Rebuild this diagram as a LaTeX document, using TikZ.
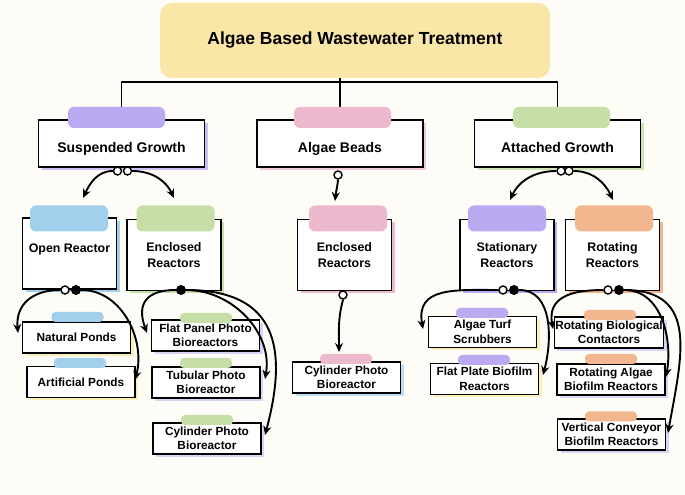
\documentclass[tikz,border=0pt]{standalone}
\usepackage{fontspec}
\setmainfont{Liberation Sans}
\usetikzlibrary{arrows.meta,shadows}

\definecolor{paper}{HTML}{FDFCF7}
\definecolor{cYellow}{HTML}{FAE6A6}
\definecolor{cPurple}{HTML}{BBA9F2}
\definecolor{cPink}{HTML}{EDB9CF}
\definecolor{cGreen}{HTML}{C6DFA8}
\definecolor{cBlue}{HTML}{A2CFEC}
\definecolor{cOrange}{HTML}{F3B78F}
\definecolor{sYellow}{HTML}{FBEFB8}
\definecolor{sLilac}{HTML}{D9D3F6}

\begin{document}
\begin{tikzpicture}[x=1pt,y=1pt,
    box/.style={draw=black, line width=1.3pt, fill=white, align=center, inner sep=1pt,
        font=\bfseries\fontsize{11.8}{14.5}\selectfont},
    bigbox/.style={box, minimum width=166pt, minimum height=47pt, text height=19pt, text depth=0pt,
        font=\bfseries\fontsize{14}{16}\selectfont},
    midbox/.style={box, minimum width=94pt, minimum height=71pt,
        font=\bfseries\fontsize{12.4}{15.5}\selectfont},
    smallbox/.style={box, minimum width=108pt, minimum height=31pt},
    backdrop/.style={general shadow={fill=#1, shadow xshift=3pt, shadow yshift=-3pt}},
    bigtag/.style={fill=#1, rounded corners=6pt, minimum width=97pt, minimum height=21pt, inner sep=0pt},
    midtag/.style={fill=#1, rounded corners=6pt, minimum width=78pt, minimum height=26pt, inner sep=0pt},
    smalltag/.style={fill=#1, rounded corners=4pt, minimum width=52pt, minimum height=10pt, inner sep=0pt},
    tree/.style={line width=1.6pt},
    link/.style={line width=1.9pt, -{Stealth[length=9pt,width=8pt]}},
    hollow/.style={circle, draw, line width=1.4pt, fill=white, inner sep=0pt, minimum size=8pt},
    filled/.style={circle, fill=black, inner sep=0pt, minimum size=10pt}]

    % Background
    \fill[paper] (0,0) rectangle (685,495);
    \useasboundingbox (0,0) rectangle (685,495);

    % Title blob
    \node[fill=cYellow, rounded corners=12pt, minimum width=390pt, minimum height=75pt,
        font=\bfseries\fontsize{17.5}{20}\selectfont] (title) at (355,454.5) {Algae Based Wastewater Treatment};

    % Top level boxes and tree lines
    \coordinate (hub) at (340,413);
    \node[bigbox, backdrop=cPurple!75] (SG) at (121.5,351.5) {Suspended Growth};
    \node[bigbox, backdrop=cPink!80] (AB) at (340,351.5) {Algae Beads};
    \node[bigbox, backdrop=cGreen!85] (AG) at (557.5,351.5) {Attached Growth};
    \draw[tree] (SG.north) |- (hub) -| (AG.north);
    \draw[tree] (title.south -| hub) -- (AB.north);

    % Top tags
    \node[bigtag=cPurple] (SGtag) at (116.5,377.5) {};
    \node[bigtag=cPink] (ABtag) at (342.5,377.5) {};
    \node[bigtag=cGreen] (AGtag) at (561.5,377.5) {};

    % Second level boxes
    \node[midbox, backdrop=cBlue, text height=9pt, text depth=11pt] (OR) at (69.5,241.5) {Open Reactor};
    \node[midbox, backdrop=cGreen] (ERL) at (174,240) {Enclosed\\Reactors};
    \node[midbox, backdrop=cPink] (ERM) at (344.5,240) {Enclosed\\Reactors};
    \node[midbox, backdrop=cPurple] (SR) at (507,240) {Stationary\\Reactors};
    \node[midbox, backdrop=cOrange] (RR) at (612.5,240) {Rotating\\Reactors};

    \node[midtag=cBlue] (ORtag) at (69,276.5) {};
    \node[midtag=cGreen] (ERLtag) at (175.5,276.5) {};
    \node[midtag=cPink] (ERMtag) at (348,276.5) {};
    \node[midtag=cPurple] (SRtag) at (507,276.5) {};
    \node[midtag=cOrange] (RRtag) at (614,276.5) {};

    % Bottom boxes
    \node[smallbox, backdrop=sYellow] (NP) at (76.5,157.5) {Natural Ponds};
    \node[smallbox, backdrop=sYellow] (AP) at (81,113) {Artificial Ponds};
    \node[smallbox, backdrop=sLilac] (FP) at (205.5,159.5) {Flat Panel Photo\\Bioreactors};
    \node[smallbox, backdrop=sLilac] (TP) at (206,112.5) {Tubular Photo\\Bioreactor};
    \node[smallbox, backdrop=sLilac] (CP) at (207,56.5) {Cylinder Photo\\Bioreactor};
    \node[smallbox, backdrop=cBlue!70] (CPM) at (346.5,117.5) {Cylinder Photo\\Bioreactor};
    \node[smallbox, backdrop=sYellow] (ATS) at (482.5,163) {Algae Turf\\Scrubbers};
    \node[smallbox, backdrop=sYellow] (FPB) at (484.5,116) {Flat Plate Biofilm\\Reactors};
    \node[smallbox, backdrop=sLilac] (RBC) at (609,162.5) {Rotating Biological\\Contactors};
    \node[smallbox, backdrop=sLilac] (RAB) at (611,115.5) {Rotating Algae\\Biofilm Reactors};
    \node[smallbox, backdrop=sLilac] (VCB) at (611.5,60.5) {Vertical Conveyor\\Biofilm Reactors};

    \node[smalltag=cBlue] (NPtag) at (77.5,178) {};
    \node[smalltag=cBlue] (APtag) at (80,132) {};
    \node[smalltag=cGreen] (FPtag) at (206,177) {};
    \node[smalltag=cGreen] (TPtag) at (206,132) {};
    \node[smalltag=cGreen] (CPtag) at (207,75) {};
    \node[smalltag=cPink] (CPMtag) at (346,136) {};
    \node[smalltag=cPurple] (ATStag) at (482,182) {};
    \node[smalltag=cPurple] (FPBtag) at (484,135) {};
    \node[smalltag=cOrange] (RBCtag) at (610,180) {};
    \node[smalltag=cOrange] (RABtag) at (611,136) {};
    \node[smalltag=cOrange] (VCBtag) at (611,78.5) {};

    % Arrow ends
    \coordinate (orIn) at (83,297);
    \coordinate (erlIn) at (174,297);
    \coordinate (ermIn) at (335,294);
    \coordinate (srIn) at (510,295);
    \coordinate (rrIn) at (613,295);
    \coordinate (npIn) at (18,162);
    \coordinate (apIn) at (135,115);
    \coordinate (fpIn) at (147,162);
    \coordinate (tpIn) at (265,116);
    \coordinate (cpIn) at (265,60);
    \coordinate (cpmIn) at (339,143);
    \coordinate (atsIn) at (423,166);
    \coordinate (fpbIn) at (543,120);
    \coordinate (rbcIn) at (553,166);
    \coordinate (rabIn) at (666,118);
    \coordinate (vcbIn) at (668,62);

    % Joint markers
    \node[hollow] (sgA) at (117.5,324) {};
    \node[hollow] (sgB) at (127.5,324) {};
    \node[hollow] (abC) at (338,320) {};
    \node[hollow] (agA) at (561,324) {};
    \node[hollow] (agB) at (569,324) {};
    \node[hollow] (orA) at (65,205) {};
    \node[filled] (orB) at (76,205) {};
    \node[filled] (erlB) at (181,205) {};
    \node[hollow] (ermC) at (343,200) {};
    \node[hollow] (srA) at (503,205) {};
    \node[filled] (srB) at (514,205) {};
    \node[hollow] (rrA) at (608,205) {};
    \node[filled] (rrB) at (619,205) {};

    % First level arrows
    \draw[link] (sgA.west) to[out=180,in=65] (orIn);
    \draw[link] (sgB.east) to[out=0,in=115] (erlIn);
    \draw[link] (abC.south) to[out=265,in=85] (ermIn);
    \draw[link] (agA.west) to[out=180,in=65] (srIn);
    \draw[link] (agB.east) to[out=0,in=115] (rrIn);

    % Second level arrows
    \draw[link] (orA.west) to[out=180,in=95,looseness=1.2] (npIn);
    \draw[link] (orB.east) to[out=0,in=75] (apIn);
    \draw[link] (erlB.west) to[out=180,in=110,looseness=1.5] (fpIn);
    \draw[link] (erlB.east) to[out=0,in=80] (tpIn);
    \draw[link] (erlB.east) to[out=0,in=75,looseness=1.4] (cpIn);
    \draw[link] (ermC.south) to[out=255,in=90] (cpmIn);
    \draw[link] (srA.west) to[out=180,in=100,looseness=1.3] (atsIn);
    \draw[link] (srB.east) to[out=0,in=75] (fpbIn);
    \draw[link] (rrA.west) to[out=180,in=100,looseness=1.3] (rbcIn);
    \draw[link] (rrB.east) to[out=0,in=80] (rabIn);
    \draw[link] (rrB.east) to[out=0,in=80,looseness=1.3] (vcbIn);

\end{tikzpicture}
\end{document}
